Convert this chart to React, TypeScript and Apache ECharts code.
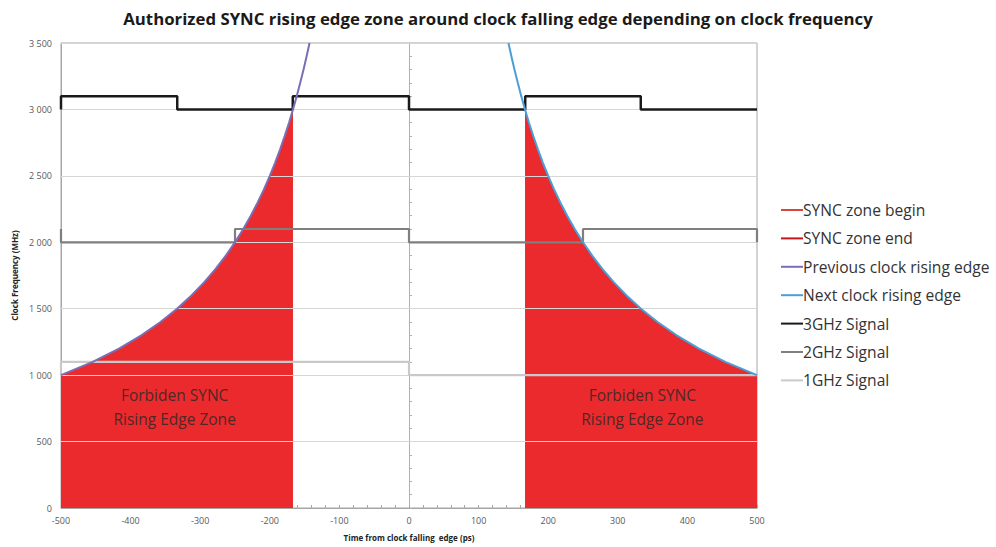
import React, { useEffect, useRef } from "react";
import * as echarts from "echarts";

// Clock frequency (MHz) and matching edge times (ps)
const edgeFreqs = [1000, 1100, 1200, 1300, 1400, 1500, 1600, 1700, 1800, 1900, 2000, 2100, 2200, 2300, 2400, 2500, 2600, 2700, 2800, 2900, 3000, 3100, 3200, 3300, 3400, 3500];
const prevEdgeTimes = [-500, -454.5, -416.7, -384.6, -357.1, -333.3, -312.5, -294.1, -277.8, -263.2, -250, -238.1, -227.3, -217.4, -208.3, -200, -192.3, -185.2, -178.6, -172.4, -166.7, -161.3, -156.3, -151.5, -147.1, -142.9];
const nextEdgeTimes = [500, 454.5, 416.7, 384.6, 357.1, 333.3, 312.5, 294.1, 277.8, 263.2, 250, 238.1, 227.3, 217.4, 208.3, 200, 192.3, 185.2, 178.6, 172.4, 166.7, 161.3, 156.3, 151.5, 147.1, 142.9];
const zoneTopFreq = 3000;

// Signals: [time (ps), level (MHz)]
const signal3GHz = [[-500, 3000], [-500, 3100], [-333, 3100], [-333, 3000], [-167, 3000], [-167, 3100], [0, 3100], [0, 3000], [167, 3000], [167, 3100], [333, 3100], [333, 3000], [500, 3000]];
const signal2GHz = [[-500, 2100], [-500, 2000], [-250, 2000], [-250, 2100], [0, 2100], [0, 2000], [250, 2000], [250, 2100], [500, 2100], [500, 2000]];
const signal1GHz = [[-500, 1000], [-500, 1100], [0, 1100], [0, 1000], [500, 1000]];

const yGridValues = [500, 1000, 1500, 2000, 2500, 3000, 3500];
const zoneLabelPoints = [[-336, 755], [336, 755]];
const zoneLabelText = "Forbiden SYNC\nRising Edge Zone";

const FONT = "'Open Sans', 'Noto Sans', sans-serif";

export default function App() {
  const ref = useRef<HTMLDivElement>(null);
  useEffect(() => {
    document.body.style.margin = "0";
    const chart = echarts.init(ref.current!, null, { renderer: "svg" });

    const prevCurve = edgeFreqs.map((f, i) => [prevEdgeTimes[i], f]);
    const nextCurve = edgeFreqs.map((f, i) => [nextEdgeTimes[i], f]);
    const leftZonePts = prevCurve.filter((p) => p[1] <= zoneTopFreq);
    const leftZone = [...leftZonePts, [leftZonePts[leftZonePts.length - 1][0], 0]];
    const rightZonePts = nextCurve.filter((p) => p[1] <= zoneTopFreq).reverse();
    const rightZone = [[rightZonePts[0][0], 0], ...rightZonePts];

    chart.setOption({
      animation: false,
      title: {
        text: "Authorized SYNC rising edge zone around clock falling edge depending on clock frequency",
        left: "center",
        top: 5,
        textStyle: { fontFamily: FONT, fontSize: 16.8, fontWeight: "bold", color: "#1a1a1a" },
      },
      grid: { left: 61, right: 239, top: 43, bottom: 39, show: true, borderColor: "#a6a6a6", borderWidth: 1 },
      legend: {
        orient: "vertical",
        left: 776,
        top: 197,
        itemWidth: 22,
        itemHeight: 2,
        itemGap: 12.4,
        icon: "rect",
        textStyle: { fontFamily: FONT, fontSize: 15.6, color: "#333", padding: [0, 0, 0, -5] },
        data: ["SYNC zone begin", "SYNC zone end", "Previous clock rising edge", "Next clock rising edge", "3GHz Signal", "2GHz Signal", "1GHz Signal"],
      },
      xAxis: {
        type: "value",
        min: -500,
        max: 500,
        interval: 100,
        name: "Time from clock falling  edge (ps)",
        nameLocation: "middle",
        nameGap: 25,
        nameTextStyle: { fontFamily: FONT, fontSize: 8, fontWeight: "bold", color: "#222" },
        axisLine: { onZero: false, lineStyle: { color: "#a6a6a6" } },
        axisTick: { show: true, inside: true, length: 3, lineStyle: { color: "#a6a6a6" } },
        minorTick: { show: true, splitNumber: 5, length: 3, lineStyle: { color: "#a6a6a6" } },
        splitLine: { show: false },
        axisLabel: { fontFamily: FONT, fontSize: 9, color: "#595959", margin: 8 },
      },
      yAxis: [
        {
          type: "value",
          min: 0,
          max: 3500,
          interval: 500,
          name: "Clock Frequency (MHz)",
          nameLocation: "middle",
          nameGap: 39,
          nameTextStyle: { fontFamily: FONT, fontSize: 8, fontWeight: "bold", color: "#222" },
          axisLine: { show: true, onZero: false, lineStyle: { color: "#a6a6a6" } },
          axisTick: { show: false },
          splitLine: { show: false },
          axisLabel: {
            fontFamily: FONT,
            fontSize: 9,
            color: "#595959",
            margin: 9,
            formatter: (v: number) => (v >= 1000 ? Math.floor(v / 1000) + " " + String(v % 1000).padStart(3, "0") : String(v)),
          },
        },
        {
          type: "value",
          min: 0,
          max: 3500,
          interval: 500,
          position: "left",
          offset: -348,
          axisLine: { show: true, onZero: false, lineStyle: { color: "#b0b0b0" } },
          axisTick: { show: true, length: 3, inside: true, lineStyle: { color: "#b0b0b0" } },
          minorTick: { show: true, splitNumber: 5, length: 3, lineStyle: { color: "#b0b0b0" } },
          axisLabel: { show: false },
          splitLine: { show: false },
        },
      ],
      series: [
        {
          name: "SYNC zone begin",
          type: "line",
          data: leftZone,
          symbol: "none",
          z: 2,
          color: "#d9463e",
          lineStyle: { width: 0 },
          areaStyle: { color: "#ea2a2c", opacity: 1 },
        },
        {
          name: "SYNC zone end",
          type: "line",
          data: rightZone,
          symbol: "none",
          z: 2,
          color: "#c8161c",
          lineStyle: { width: 0 },
          areaStyle: { color: "#ea2a2c", opacity: 1 },
        },
        {
          name: "gridlines",
          type: "line",
          data: [],
          z: 3,
          markLine: {
            silent: true,
            z: 3,
            symbol: "none",
            label: { show: false },
            lineStyle: { color: "#d6d6d6", width: 1, type: "solid" },
            data: yGridValues.map((v) => ({ yAxis: v })),
          },
        },
        {
          name: "zoneLabels",
          type: "scatter",
          data: zoneLabelPoints,
          symbolSize: 1,
          z: 10,
          itemStyle: { color: "rgba(0,0,0,0)" },
          label: {
            show: true,
            formatter: () => zoneLabelText,
            position: [0, 0],
            align: "center",
            verticalAlign: "middle",
            fontFamily: FONT,
            fontSize: 15.5,
            lineHeight: 24,
            color: "#262626",
            textBorderWidth: 0,
          },
        },
        {
          name: "1GHz Signal",
          type: "line",
          data: signal1GHz,
          symbol: "none",
          z: 6,
          color: "#c9c9c9",
          lineStyle: { width: 2.2, color: "#c9c9c9" },
        },
        {
          name: "2GHz Signal",
          type: "line",
          data: signal2GHz,
          symbol: "none",
          z: 6,
          color: "#7f7f7f",
          lineStyle: { width: 2.2, color: "#7f7f7f" },
        },
        {
          name: "3GHz Signal",
          type: "line",
          data: signal3GHz,
          symbol: "none",
          z: 6,
          color: "#1a1a1a",
          lineStyle: { width: 2.5, color: "#1a1a1a" },
        },
        {
          name: "Previous clock rising edge",
          type: "line",
          data: prevCurve,
          symbol: "none",
          z: 7,
          color: "#7a6fb5",
          lineStyle: { width: 2, color: "#7a6fb5" },
        },
        {
          name: "Next clock rising edge",
          type: "line",
          data: nextCurve,
          symbol: "none",
          z: 7,
          color: "#4a9fd8",
          lineStyle: { width: 2, color: "#4a9fd8" },
        },
      ],
    });
    return () => chart.dispose();
  }, []);
  return <div ref={ref} style={{ width: 996, height: 547 }} />;
}
